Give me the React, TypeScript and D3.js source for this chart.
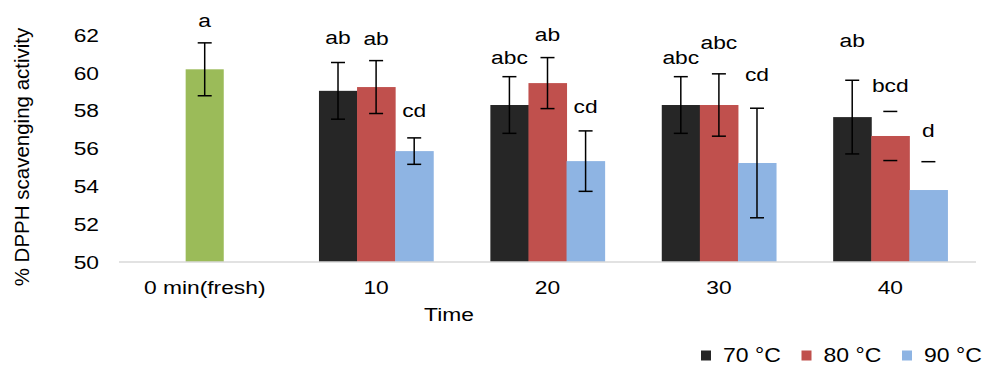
import React from "react";
import * as d3 from "d3";

const categories = ["0 min(fresh)", "10", "20", "30", "40"];
const seriesNames = ["70 °C", "80 °C", "90 °C"];
const seriesColors = ["#262626", "#c0504d", "#8eb4e3"];
const freshColor = "#9bbb59";

const freshValue = 60.2;
const freshErr = 1.4;
const freshLetter = "a";
const freshLetterY = 62.45;

const values70 = [null, 59.06, 58.31, 58.31, 57.67];
const values80 = [null, 59.26, 59.47, 58.31, 56.67];
const values90 = [null, 55.87, 55.34, 55.24, 53.81];

const err70 = [null, 1.5, 1.5, 1.5, 1.95];
const err80 = [null, 1.4, 1.35, 1.65, 1.3];
const err90 = [null, 0.7, 1.6, 2.9, 1.5];

// how the error bar appears in the reference: full, caps only, top cap only
const errMode70 = ["", "full", "full", "full", "full"];
const errMode80 = ["", "full", "full", "full", "caps"];
const errMode90 = ["", "full", "full", "full", "top"];

const letters70 = ["", "ab", "abc", "abc", "ab"];
const letters80 = ["", "ab", "ab", "abc", "bcd"];
const letters90 = ["", "cd", "cd", "cd", "d"];
// letter baseline heights in data units
const letterY70 = [null, 61.52, 60.46, 60.48, 61.39];
const letterY80 = [null, 61.48, 61.69, 61.25, 58.98];
const letterY90 = [null, 57.69, 57.87, 59.58, 56.6];

const yTicks = [50, 52, 54, 56, 58, 60, 62];

const W = 982;
const H = 366;
const FONT = "'Liberation Sans', Arial, sans-serif";
const SX = 1.2;

function T(props: any) {
  const { x, y, anchor = "middle", size = 19, sx = SX, children, fill = "#000" } = props;
  return (
    <text
      transform={`translate(${x},${y}) scale(${sx},1)`}
      textAnchor={anchor}
      fontSize={size}
      fontFamily={FONT}
      fill={fill}
    >
      {children}
    </text>
  );
}

export default function App() {
  const x = d3.scaleBand<string>().domain(categories).range([119, 976]).padding(0);
  const bw = x.bandwidth();
  const inner = d3
    .scaleBand<string>()
    .domain(seriesNames)
    .range([bw / 6, (bw * 5) / 6])
    .padding(0);
  const barW = inner.bandwidth();
  const y = d3.scaleLinear().domain([50, 62]).range([262, 35.3]);

  const series = [
    { vals: values70, errs: err70, modes: errMode70, letters: letters70, ly: letterY70 },
    { vals: values80, errs: err80, modes: errMode80, letters: letters80, ly: letterY80 },
    { vals: values90, errs: err90, modes: errMode90, letters: letters90, ly: letterY90 },
  ];

  const capW = 14;
  const errBar = (cx: number, v: number, e: number, mode: string, key: string) => {
    const top = y(v + e);
    const bot = y(v - e);
    return (
      <g key={key} stroke="#000" strokeWidth={1.5}>
        {mode === "full" && <line x1={cx} x2={cx} y1={top} y2={bot} />}
        <line x1={cx - capW / 2} x2={cx + capW / 2} y1={top} y2={top} />
        {mode !== "top" && <line x1={cx - capW / 2} x2={cx + capW / 2} y1={bot} y2={bot} />}
      </g>
    );
  };

  const freshCx = (x(categories[0]) as number) + bw / 2;

  return (
    <svg width={W} height={H} style={{ position: "absolute", left: 0, top: 0, background: "#fff" }}>
      <rect width={W} height={H} fill="#fff" />
      {/* y tick labels */}
      {yTicks.map((t) => (
        <T key={t} x={99} y={y(t) + 6.6} anchor="end">
          {t}
        </T>
      ))}
      {/* y title */}
      <text
        transform={`translate(29,157) rotate(-90)`}
        textAnchor="middle"
        fontSize={20.5}
        fontFamily={FONT}
      >
        % DPPH scavenging activity
      </text>

      {/* fresh bar */}
      <rect x={freshCx - barW / 2} y={y(freshValue)} width={barW} height={y(50) - y(freshValue)} fill={freshColor} />
      {errBar(freshCx, freshValue, freshErr, "full", "fresh-err")}
      <T x={freshCx} y={y(freshLetterY)}>{freshLetter}</T>

      {/* grouped bars */}
      {categories.map((c, ci) =>
        series.map((s, si) => {
          const v = s.vals[ci];
          if (v == null) return null;
          const bx = (x(c) as number) + (inner(seriesNames[si]) as number);
          return (
            <rect key={`b${ci}-${si}`} x={bx} y={y(v)} width={barW + 0.5} height={y(50) - y(v)} fill={seriesColors[si]} />
          );
        })
      )}
      {categories.map((c, ci) =>
        series.map((s, si) => {
          const v = s.vals[ci];
          const e = s.errs[ci];
          if (v == null || e == null) return null;
          const cx = (x(c) as number) + (inner(seriesNames[si]) as number) + barW / 2;
          return (
            <g key={`e${ci}-${si}`}>
              {errBar(cx, v, e, s.modes[ci], `eb${ci}-${si}`)}
              <T x={cx} y={y(s.ly[ci] as number)}>{s.letters[ci]}</T>
            </g>
          );
        })
      )}

      {/* x axis */}
      <line x1={119} x2={976} y1={y(50)} y2={y(50)} stroke="#d9d9d9" strokeWidth={1.5} />
      {categories.map((c) => (
        <T key={c} x={(x(c) as number) + bw / 2} y={294}>
          {c}
        </T>
      ))}
      <T x={449} y={321}>Time</T>

      {/* legend */}
      {seriesNames.map((n, i) => {
        const lx = 701 + i * 100.5;
        return (
          <g key={n}>
            <rect x={lx} y={350.5} width={10} height={10} fill={seriesColors[i]} />
            <T x={lx + 22} y={361.5} anchor="start" size={20} sx={1.15}>
              {n}
            </T>
          </g>
        );
      })}
    </svg>
  );
}
